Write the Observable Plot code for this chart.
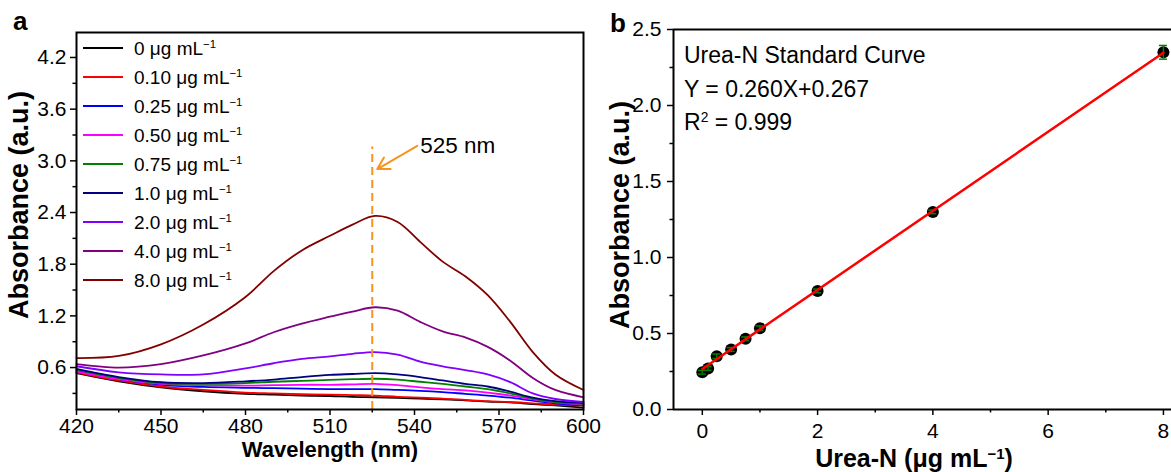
<!DOCTYPE html>
<html><head><meta charset="utf-8">
<script src="https://cdn.jsdelivr.net/npm/d3@7"></script>
<script src="https://cdn.jsdelivr.net/npm/@observablehq/plot@0.6"></script>
<style>
body{margin:0;background:#fff;}
#wrap{position:relative;width:1171px;height:472px;overflow:hidden;font-family:"Liberation Sans",Arial,sans-serif;color:#000;}
.abs{position:absolute;white-space:nowrap;line-height:1;}
.sup{font-size:0.6em;position:relative;top:-0.55em;}
.ylab{font-weight:bold;font-size:27px;transform:translate(-50%,-50%) rotate(-90deg);}
.xlab{font-weight:bold;font-size:22px;transform:translateX(-50%);}
.panel{font-weight:bold;font-size:26px;}
.ann{font-size:23px;}
.leg{display:flex;align-items:center;height:20px;font-size:19px;}
.leg .sw{width:40px;height:0;border-top:2px solid #000;margin-right:11px;}
#pa,#pb{position:absolute;top:0;}
#pa{left:0;z-index:2;} #pb{left:590px;z-index:1;}
</style></head>
<body><div id="wrap"><div id="pa"></div><div id="pb"></div></div>
<script>
// ---------- data: panel a (UV-vis spectra) ----------
const wavelengths = [420,435,450,465,480,490,500,510,518,526,534,542,550,558,566,574,582,590,600];
const concLabels = ["0","0.10","0.25","0.50","0.75","1.0","2.0","4.0","8.0"];
const seriesColors = ["#000000","#FF0000","#0000FF","#FF00FF","#008000","#000080","#8000FF","#800080","#800000"];
const abs_0   = [0.535,0.44,0.37,0.325,0.295,0.285,0.275,0.27,0.26,0.255,0.248,0.24,0.23,0.22,0.205,0.195,0.175,0.16,0.135];
const abs_010 = [0.545,0.45,0.38,0.34,0.31,0.30,0.29,0.285,0.28,0.275,0.26,0.25,0.24,0.225,0.21,0.20,0.185,0.17,0.16];
const abs_025 = [0.565,0.465,0.40,0.375,0.365,0.36,0.355,0.35,0.35,0.35,0.34,0.33,0.315,0.295,0.275,0.25,0.215,0.185,0.16];
const abs_050 = [0.557,0.465,0.41,0.395,0.39,0.395,0.40,0.40,0.405,0.41,0.395,0.37,0.35,0.335,0.31,0.275,0.23,0.195,0.17];
const abs_075 = [0.575,0.48,0.42,0.41,0.42,0.435,0.445,0.457,0.465,0.47,0.46,0.435,0.41,0.38,0.35,0.30,0.24,0.20,0.18];
const abs_10  = [0.585,0.49,0.43,0.42,0.44,0.46,0.49,0.515,0.525,0.535,0.52,0.49,0.45,0.41,0.38,0.32,0.25,0.21,0.19];
const abs_20  = [0.615,0.545,0.52,0.52,0.59,0.65,0.70,0.73,0.76,0.78,0.75,0.67,0.615,0.57,0.52,0.43,0.30,0.235,0.20];
const abs_40  = [0.64,0.60,0.64,0.74,0.88,1.01,1.11,1.19,1.25,1.30,1.26,1.13,1.02,0.95,0.84,0.68,0.48,0.34,0.255];
const abs_80  = [0.71,0.735,0.87,1.10,1.42,1.72,1.96,2.13,2.26,2.36,2.29,2.06,1.83,1.66,1.44,1.13,0.78,0.52,0.34];
const spectra = [abs_0,abs_010,abs_025,abs_050,abs_075,abs_10,abs_20,abs_40,abs_80];
const xTicksA = [420,450,480,510,540,570,600];
const xMinorA = [435,465,495,525,555,585];
const yTicksA = [0.6,1.2,1.8,2.4,3.0,3.6,4.2];
const yMinorA = [0.3,0.9,1.5,2.1,2.7,3.3,3.9];
const peakWavelength = [525];
const peakLineTop = 3.16;
const peakLabel = ["525 nm"];
const arrowFrom = [541, 3.175];
const arrowTo = [526.8, 2.905];

// ---------- data: panel b (standard curve) ----------
const ureaN = [0,0.10,0.25,0.50,0.75,1.0,2.0,4.0,8.0];
const absorbance525 = [0.245,0.27,0.35,0.395,0.465,0.535,0.78,1.30,2.35];
const absError = [0.012,0.012,0.015,0.012,0.012,0.015,0.012,0.012,0.045];
const fitSlope = 0.260, fitIntercept = 0.267;
const fitRange = [0, 8];
const xTicksB = [0,2,4,6,8];
const xMinorB = [1,3,5,7];
const yTicksB = [0,0.5,1.0,1.5,2.0,2.5];
const yMinorB = [0.25,0.75,1.25,1.75,2.25];

// ---------- build tables ----------
const rows = spectra.flatMap((arr, si) => arr.map((a, i) => ({w: wavelengths[i], a, s: concLabels[si]})));
const pts = ureaN.map((x, i) => ({x, y: absorbance525[i], e: absError[i]}));
const fitPts = fitRange.map(x => ({x, y: fitSlope * x + fitIntercept}));
const orange = "#F7931E";
const fontStyle = {fontFamily: "'Liberation Sans', Arial, sans-serif", fontSize: "21px", color: "#000", background: "transparent", overflow: "visible"};
const yDomA = [0.113, 4.49];

const plotA = Plot.plot({
  width: 590, height: 472,
  marginLeft: 76, marginRight: 7, marginTop: 32, marginBottom: 63,
  style: fontStyle,
  x: {domain: [420, 600]},
  y: {domain: yDomA},
  color: {type: "ordinal", domain: concLabels, range: seriesColors},
  marks: [
    Plot.line(rows, {x: "w", y: "a", stroke: "s", strokeWidth: 1.8, curve: "catmull-rom"}),
    Plot.ruleX(peakWavelength, {y1: yDomA[0], y2: peakLineTop, stroke: orange, strokeWidth: 2, strokeDasharray: "8,5"}),
    Plot.arrow([0], {x1: () => arrowFrom[0], y1: () => arrowFrom[1], x2: () => arrowTo[0], y2: () => arrowTo[1], stroke: orange, strokeWidth: 2, headLength: 10, bend: 0}),
    Plot.text(peakLabel, {x: () => 542, y: () => 3.175, text: d => d, textAnchor: "start", fontSize: 22.5}),
    Plot.axisX({ticks: xTicksA, tickSize: 6, tickPadding: 3, strokeWidth: 1.5, label: null}),
    Plot.axisX({ticks: xMinorA, tickSize: 3.5, strokeWidth: 1.5, tickFormat: () => "", label: null}),
    Plot.axisY({ticks: yTicksA, tickSize: 6, tickPadding: 4, strokeWidth: 1.5, tickFormat: d => d.toFixed(1), label: null}),
    Plot.axisY({ticks: yMinorA, tickSize: 3.5, strokeWidth: 1.5, tickFormat: () => "", label: null}),
    Plot.frame({strokeWidth: 2})
  ]
});
document.getElementById("pa").appendChild(plotA);

const plotB = Plot.plot({
  width: 581, height: 472,
  marginLeft: 83, marginRight: 0, marginTop: 29, marginBottom: 63,
  style: {...fontStyle, overflow: "hidden"},
  x: {domain: [-0.5, 8.14]},
  y: {domain: [0, 2.5]},
  marks: [
    Plot.dot(pts, {x: "x", y: "y", r: 6, fill: "#000"}),
    Plot.ruleX(pts, {x: "x", y1: d => d.y - d.e, y2: d => d.y + d.e, stroke: "#008000", strokeWidth: 1.5}),
    Plot.ruleY(pts, {y: d => d.y + d.e, x1: d => d.x - 0.07, x2: d => d.x + 0.07, stroke: "#008000", strokeWidth: 1.5}),
    Plot.ruleY(pts, {y: d => d.y - d.e, x1: d => d.x - 0.07, x2: d => d.x + 0.07, stroke: "#008000", strokeWidth: 1.5}),
    Plot.line(fitPts, {x: "x", y: "y", stroke: "#FF0000", strokeWidth: 2.5}),
    Plot.axisX({ticks: xTicksB, tickSize: 6, tickPadding: 8, strokeWidth: 1.5, label: null}),
    Plot.axisX({ticks: xMinorB, tickSize: 3.5, strokeWidth: 1.5, tickFormat: () => "", label: null}),
    Plot.axisY({ticks: yTicksB, tickSize: 6, tickPadding: 6, strokeWidth: 1.5, tickFormat: d => d.toFixed(1), label: null}),
    Plot.axisY({ticks: yMinorB, tickSize: 3.5, strokeWidth: 1.5, tickFormat: () => "", label: null}),
    Plot.ruleX([-0.5], {strokeWidth: 2}),
    Plot.ruleY([0], {strokeWidth: 2}),
    Plot.ruleY([2.5], {strokeWidth: 2})
  ]
});
document.getElementById("pb").appendChild(plotB);

// ---------- text overlays ----------
const wrap = document.getElementById("wrap");
function add(html, cls, css) {
  const d = document.createElement("div");
  d.className = "abs " + cls;
  d.innerHTML = html;
  Object.assign(d.style, css);
  wrap.appendChild(d);
  return d;
}
const unit = 'μg mL<span class="sup">−1</span>';
add("a", "panel", {left: "13px", top: "8px"});
add("b", "panel", {left: "610px", top: "10px"});
add("Absorbance (a.u.)", "ylab", {left: "19px", top: "205px"});
add("Wavelength (nm)", "xlab", {left: "330px", top: "439px"});
add("Absorbance (a.u.)", "ylab", {left: "620px", top: "215px"});
add("Urea-N (" + unit + ")", "xlab", {left: "914px", top: "446px", fontSize: "25px"});
add("Urea-N Standard Curve", "ann", {left: "684px", top: "44px"});
add("Y = " + fitSlope.toFixed(3) + "X+" + fitIntercept.toFixed(3), "ann", {left: "684px", top: "78px"});
add('R<span class="sup">2</span> = 0.999', "ann", {left: "684px", top: "111px"});
concLabels.forEach((lab, i) => {
  add('<div class="sw" style="border-top-color:' + seriesColors[i] + '"></div><span>' + lab + ' ' + unit + '</span>',
      "leg", {left: "83px", top: (38 + 29 * i) + "px"});
});
</script>
</body></html>
